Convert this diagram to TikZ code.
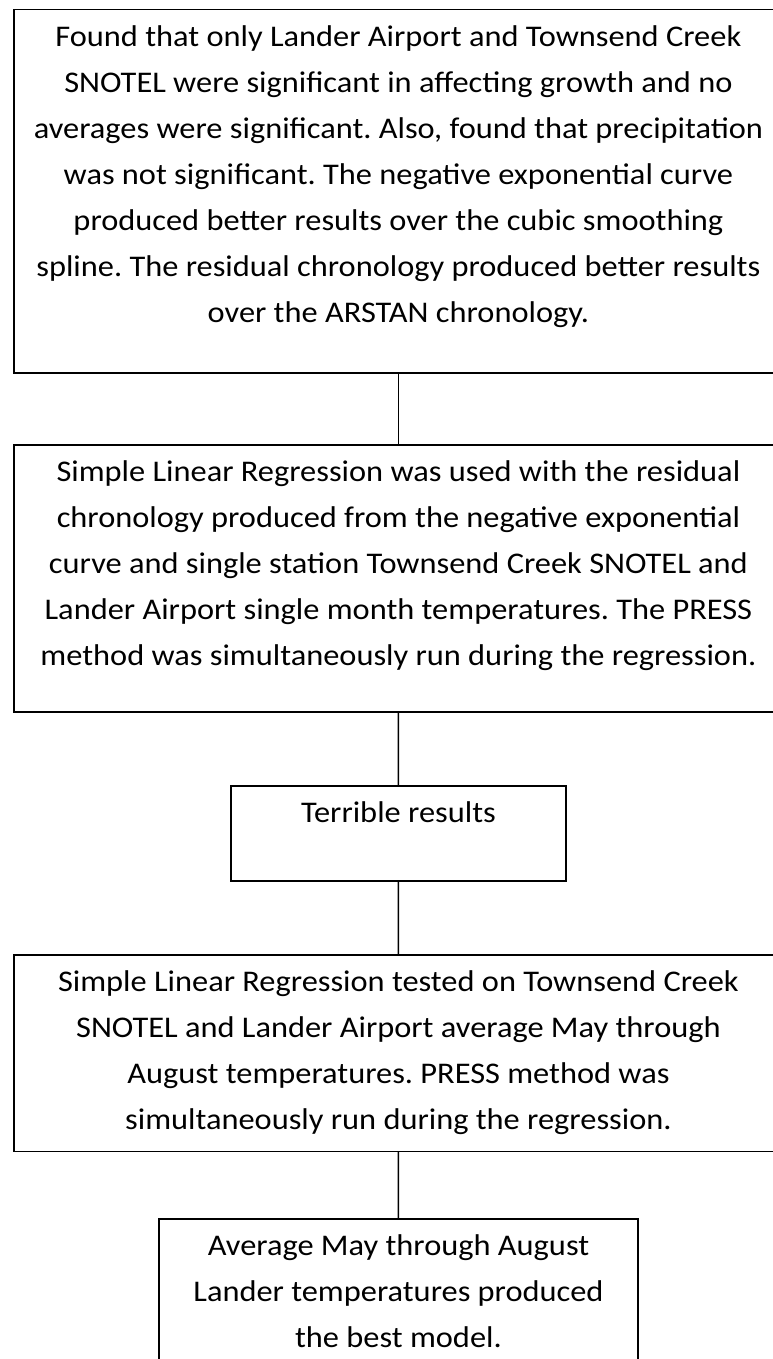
\documentclass[tikz,border=0pt]{standalone}
\usepackage{fontspec}
\setmainfont{Carlito}[FakeStretch=1.08]
\usepackage{tikz}
\usetikzlibrary{positioning}
\frenchspacing
\def\boxtext#1#2#3{\parbox[c][#2][t]{#1}{\centering\rule{0pt}{36.5pt}#3}}
\tikzset{flowbox/.style={draw, line width=1.5pt, inner sep=0pt, anchor=north west, font=\fontsize{30}{46}\selectfont}}

\begin{document}
\begin{tikzpicture}[x=1pt, y=-1pt]
				%%%%% START %%%%%
				\useasboundingbox (0, 0) rectangle (773, 1359);
				
				\node[flowbox] (found) at (13.3, 9) {\boxtext{768.7pt}{363pt}{Found that only Lander Airport and Townsend Creek\\
				SNOTEL were significant in affecting growth and no\\
				averages were significant. Also, found that precipitation\\
				was not significant. The negative exponential curve\\
				produced better results over the cubic smoothing\\
				spline. The residual chronology produced better results\\
				over the ARSTAN chronology.}};
				
				\node[flowbox] (slr) at (13.3, 444) {\boxtext{768.7pt}{267pt}{Simple Linear Regression was used with the residual\\
				chronology produced from the negative exponential\\
				curve and single station Townsend Creek SNOTEL and\\
				Lander Airport single month temperatures. The PRESS\\
				method was simultaneously run during the regression.}};
				
				\node[flowbox] (terrible) at (230, 785) {\boxtext{335.4pt}{95pt}{Terrible results}};
				
				\node[flowbox] (slravg) at (13.3, 954.3) {\boxtext{768.7pt}{196.4pt}{Simple Linear Regression tested on Townsend Creek\\
				SNOTEL and Lander Airport average May through\\
				August temperatures. PRESS method was\\
				simultaneously run during the regression.}};
				
				\node[flowbox] (best) at (158.4, 1218) {\boxtext{478.6pt}{162pt}{Average May through August\\
				Lander temperatures produced\\
				the best model.}};
				
				\draw[line width=1.5pt] (found.south) -- (slr.north);
				\draw[line width=1.5pt] (slr.south) -- (terrible.north);
				\draw[line width=1.5pt] (terrible.south) -- (slravg.north);
				\draw[line width=1.5pt] (slravg.south) -- (best.north);
				%%%%% END %%%%%
\end{tikzpicture}
\end{document}
